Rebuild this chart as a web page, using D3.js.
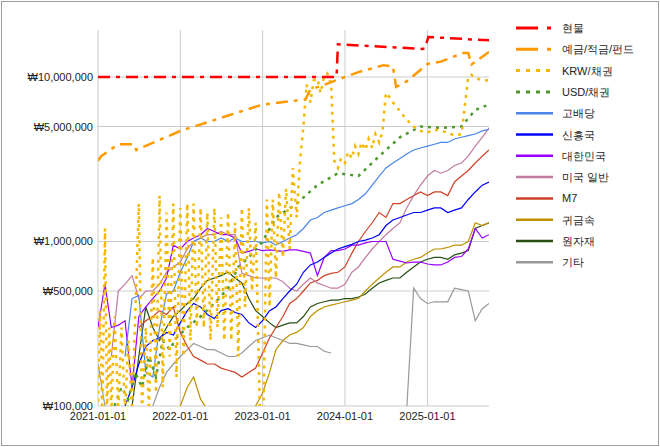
<!DOCTYPE html>
<html><head><meta charset="utf-8">
<script src="https://cdn.jsdelivr.net/npm/d3@7"></script>
<style>body{margin:0;background:#fff}text{font-family:"Liberation Sans",Arial,sans-serif}</style>
</head><body><svg id="chart" width="660" height="447"></svg>
<script>
// values in won (thousands * 1000)
var K = 1000

var xTicks = ["2021-01-01", "2022-01-01", "2023-01-01", "2024-01-01", "2025-01-01"]
var yTicks = [100000, 500000, 1000000, 5000000, 10000000]

var spotDates = ["2021-01-01", "2023-11-25", "2023-12-01", "2024-12-10", "2024-12-20", "2025-01-05", "2025-10-01"]
var spotVals = [10000, 10000, 15800, 14800, 14900, 17500, 16700]

var depDates = ["2021-01-01", "2021-01-15", "2021-04-01", "2021-06-10", "2021-06-20", "2022-01-01", "2023-01-01", "2023-07-10", "2023-08-01", "2023-09-15", "2024-01-01", "2024-03-01", "2024-06-20", "2024-08-01", "2024-08-15", "2024-10-01", "2025-01-01", "2025-03-01", "2025-06-10", "2025-07-01", "2025-07-15", "2025-10-01"]
var depVals = [3100, 3300, 3900, 3900, 3600, 4700, 6800, 7300, 8400, 8800, 10000, 10700, 11800, 11600, 8700, 9400, 12000, 12400, 14000, 14000, 11900, 14200]

var krwDates = ["2021-01-01", "2021-01-10", "2021-01-20", "2021-02-01", "2021-02-10", "2021-02-20", "2021-03-01", "2021-03-15", "2021-04-01", "2021-04-15", "2021-05-01", "2021-05-15", "2021-06-01", "2021-06-15", "2021-07-01", "2021-07-15", "2021-08-01", "2021-08-15", "2021-09-01", "2021-09-15", "2021-10-01", "2021-10-15", "2021-11-01", "2021-11-15", "2021-12-01", "2021-12-15",
  "2022-01-01", "2022-01-15", "2022-02-01", "2022-02-15", "2022-03-01", "2022-03-15", "2022-04-01", "2022-04-15", "2022-05-01", "2022-05-15", "2022-06-01", "2022-06-15", "2022-07-01", "2022-07-15", "2022-08-01", "2022-08-15", "2022-09-01", "2022-09-15", "2022-10-01", "2022-10-15", "2022-11-01", "2022-11-15", "2022-12-01", "2022-12-20",
  "2023-01-05", "2023-01-20", "2023-02-01", "2023-02-15", "2023-03-01", "2023-03-15", "2023-04-01", "2023-04-15", "2023-05-01", "2023-05-15", "2023-06-01", "2023-06-15", "2023-07-01", "2023-07-15", "2023-08-01", "2023-08-15", "2023-09-01", "2023-09-15", "2023-10-01", "2023-10-15", "2023-11-01", "2023-11-15", "2023-12-01", "2023-12-15",
  "2024-01-01", "2024-01-15", "2024-02-01", "2024-02-15", "2024-03-01", "2024-03-15", "2024-04-01", "2024-04-15", "2024-05-01", "2024-05-15", "2024-06-01", "2024-06-15", "2024-07-01", "2024-07-15", "2024-08-01", "2024-09-01", "2024-10-01", "2024-11-01", "2024-12-01", "2025-01-01", "2025-02-01", "2025-03-01", "2025-04-01", "2025-05-01", "2025-06-01", "2025-07-01", "2025-07-15", "2025-08-01", "2025-09-01", "2025-10-01"]
var krwVals = [95, 380, 90, 1200, 90, 300, 90, 350, 95, 300, 90, 250, 95, 350, 1700, 95, 300, 95, 800, 120, 1900, 130, 1500, 200, 1700, 150,
  1600, 200, 1700, 250, 1700, 300, 1600, 300, 1500, 250, 1600, 300, 1400, 250, 1500, 250, 1300, 200, 1600, 400, 1600, 500, 1300, 90,
  95, 1800, 400, 1800, 600, 2000, 800, 2100, 900, 2800, 1400, 3000, 5000, 9000, 7000, 9500, 9800, 8000, 10100, 10500, 9000, 3100, 2800, 3200,
  3000, 3500, 3200, 3800, 3400, 4000, 3600, 4200, 3700, 4500, 4000, 4600, 8000, 7600, 7000, 6200, 5500, 5000, 4700, 4600, 4800, 4700, 4600, 4400, 4500, 10000, 10300, 9800, 9600, 9500]

var usdDates = ["2021-03-15", "2021-04-15", "2021-05-15", "2021-06-15", "2021-07-15", "2021-08-15", "2021-09-15", "2021-10-15", "2021-11-15", "2021-12-15", "2022-02-01", "2022-04-01", "2022-06-01", "2022-08-01", "2022-09-15", "2022-11-01", "2023-01-01", "2023-03-01", "2023-06-01", "2023-09-01", "2023-12-01", "2024-03-01", "2024-06-01", "2024-09-01", "2024-12-01", "2025-03-01", "2025-06-01", "2025-08-01", "2025-10-01"]
var usdVals = [100, 130, 110, 160, 130, 200, 150, 250, 220, 260, 300, 350, 420, 520, 700, 800, 1000, 1400, 1700, 2200, 2600, 2500, 3300, 4300, 5000, 4900, 5000, 6300, 6800]

var months = ["2021-01", "2021-02", "2021-03", "2021-04", "2021-05", "2021-06", "2021-07", "2021-08", "2021-09", "2021-10", "2021-11", "2021-12",
  "2022-01", "2022-02", "2022-03", "2022-04", "2022-05", "2022-06", "2022-07", "2022-08", "2022-09", "2022-10", "2022-11", "2022-12",
  "2023-01", "2023-02", "2023-03", "2023-04", "2023-05", "2023-06", "2023-07", "2023-08", "2023-09", "2023-10", "2023-11", "2023-12",
  "2024-01", "2024-02", "2024-03", "2024-04", "2024-05", "2024-06", "2024-07", "2024-08", "2024-09", "2024-10", "2024-11", "2024-12",
  "2025-01", "2025-02", "2025-03", "2025-04", "2025-05", "2025-06", "2025-07", "2025-08", "2025-09", "2025-10"]

// monthly series (null = no holding)
var divVals = [null, null, null, null, 200, 450, 470, 160, 150, 300, 480, 500,
  650, 800, 1000, 1050, 1000, 1000, 1050, 1000, 1050, 1000, 1000, 1000,
  980, 1000, 950, 1000, 1050, 1100, 1200, 1350, 1400, 1500, 1550, 1600,
  1650, 1700, 1800, 1950, 2200, 2500, 2800, 3000, 3200, 3400, 3600, 3700,
  3800, 3900, 4000, 4000, 4200, 4300, 4400, 4500, 4700, 4800]
var emVals = [null, null, null, null, 100, 130, 180, 230, 250, 260, 280, 270,
  320, 380, 420, 400, 360, 340, 380, 390, 370, 360, 320, 300,
  330, 380, 400, 450, 500, 550, 650, 720, 750, 800, 850, 900,
  930, 960, 1000, 1020, 1050, 1100, 1250, 1350, 1400, 1450, 1500, 1500,
  1550, 1600, 1600, 1500, 1550, 1600, 1800, 2000, 2200, 2300]
var krVals = [300, 550, 300, 310, 330, 130, 350, 400, 450, 500, 600, 950,
  900, 1000, 1050, 1100, 1200, 1150, 1100, 1100, 1050, 850, 870, 900,
  880, 890, 880, 870, 890, 890, 870, 850, 620, 800, 880, 880,
  900, 950, 950, 980, 1000, 1000, 1000, 780, 760, 740, 750, 750,
  730, 720, 720, 750, 800, 810, 900, 1200, 1050, 1100]
var usVals = [null, null, 200, 500, 550, 620, 450, 500, 500, 550, 650, 700,
  750, 900, 1000, 1050, 1100, 1100, 1150, 1100, 1100, 640, 620, 600,
  600, 600, 600, 570, 520, 500, 550, 600, 560, 540, 520, 520,
  550, 650, 700, 800, 900, 1000, 1100, 1200, 1300, 1600, 1900, 2200,
  2500, 2700, 2600, 2700, 2900, 3000, 3300, 3800, 4300, 4900]
var m7Vals = [null, null, null, null, null, null, 300, 330, 350, 380, 360, 400,
  280, 230, 200, 190, 180, 180, 170, 165, 160, 150, 160, 170,
  210, 260, 300, 350, 420, 450, 500, 560, 580, 620, 640, 650,
  700, 850, 1000, 1150, 1300, 1500, 1400, 1700, 1700, 1800, 1900, 2000,
  1900, 2000, 2000, 1900, 2300, 2500, 2700, 3000, 3300, 3600]
var goldVals = [null, null, null, null, null, null, null, null, null, null, null, null,
  100, 130, 150, 110, 95, null, null, null, null, null, 95, 100,
  120, 160, 220, 250, 270, 280, 300, 350, 380, 400, 410, 420,
  430, 440, 450, 500, 550, 600, 650, 700, 700, 750, 780, 800,
  850, 900, 900, 920, 950, 950, 1000, 1300, 1250, 1300]
var rawVals = [null, null, null, null, null, 100, 200, 400, 300, 250, 300, 350,
  380, 420, 450, 520, 580, 600, 620, 650, 600, 560, 450, 380,
  350, 320, 300, 310, 320, 320, 350, 400, 420, 430, 440, 440,
  450, 450, 460, 480, 520, 560, 580, 600, 600, 650, 700, 750,
  780, 800, 800, 780, 830, 850, 880, 1200, 1250, 1300]
var etcVals = [180, 100, null, null, null, null, null, null, 100, 130, 160, 180,
  200, 220, 240, 230, 220, 220, 210, 200, 200, 210, 230, 250,
  260, 270, 260, 250, 240, 240, 235, 230, 230, 215, 210, null,
  null, null, null, null, null, null, null, null, null, 95, 520, 450,
  420, 430, 430, 430, 520, 510, 500, 330, 390, 420]

var names = ["현물", "예금/적금/펀드", "KRW/채권", "USD/채권", "고배당", "신흥국", "대한민국", "미국 일반", "M7", "귀금속", "원자재", "기타"]
var colors = ["#ff0000", "#ff9900", "#f5b800", "#4e9a2e", "#4a86e8", "#0000ff", "#9900ff", "#c27ba0", "#cc4125", "#bf9000", "#274e13", "#999999"]
var dashes = ["12,6,4,6", "12,6,4,6", "3,5", "3,5", null, null, null, null, null, null, null, null]
var widths = [2.5, 2.5, 2.5, 2.5, 1.2, 1.2, 1.2, 1.2, 1.2, 1.2, 1.2, 1.2]

var parseDay = d3.timeParse("%Y-%m-%d")
var parseMonth = d3.timeParse("%Y-%m")

function zip(dates, vals, parse) {
  return dates.map(function(d, i) {
    return {date: parse(d), v: vals[i] == null ? null : vals[i] * K}
  })
}

var series = [
  zip(spotDates, spotVals, parseDay),
  zip(depDates, depVals, parseDay),
  zip(krwDates, krwVals, parseDay),
  zip(usdDates, usdVals, parseDay),
  zip(months, divVals, parseMonth),
  zip(months, emVals, parseMonth),
  zip(months, krVals, parseMonth),
  zip(months, usVals, parseMonth),
  zip(months, m7Vals, parseMonth),
  zip(months, goldVals, parseMonth),
  zip(months, rawVals, parseMonth),
  zip(months, etcVals, parseMonth)
]

var svg = d3.select("#chart")
var plotL = 98, plotR = 489, plotT = 30, plotB = 406

svg.append("rect").attr("x", 1.5).attr("y", 1.5).attr("width", 657).attr("height", 444)
  .attr("fill", "none").attr("stroke", "#9e9e9e")

var x = d3.scaleTime().domain([parseDay("2021-01-01"), parseDay("2025-10-01")]).range([plotL, plotR])
var y = d3.scaleLog().domain([100000, 19300000]).range([plotB, plotT])

svg.append("defs").append("clipPath").attr("id", "clip")
  .append("rect").attr("x", plotL).attr("y", plotT - 3).attr("width", plotR - plotL).attr("height", plotB - plotT + 3)

// grid
svg.selectAll(".hgrid").data(yTicks).enter().append("line")
  .attr("x1", plotL).attr("x2", plotR)
  .attr("y1", function(d) { return y(d) }).attr("y2", function(d) { return y(d) })
  .attr("stroke", "#cccccc")
svg.selectAll(".vgrid").data(xTicks).enter().append("line")
  .attr("x1", function(d) { return x(parseDay(d)) }).attr("x2", function(d) { return x(parseDay(d)) })
  .attr("y1", plotT).attr("y2", plotB)
  .attr("stroke", "#cccccc")

var fmt = d3.format(",")
svg.selectAll(".ylab").data(yTicks).enter().append("text")
  .attr("x", plotL - 5).attr("y", function(d) { return y(d) + 4 })
  .attr("text-anchor", "end").attr("font-size", 11).attr("fill", "#222")
  .text(function(d) { return "₩" + fmt(d) })
svg.selectAll(".xlab").data(xTicks).enter().append("text")
  .attr("x", function(d) { return x(parseDay(d)) }).attr("y", plotB + 14)
  .attr("text-anchor", "middle").attr("font-size", 11).attr("fill", "#222")
  .text(function(d) { return d })

var line = d3.line()
  .defined(function(d) { return d.v != null })
  .x(function(d) { return x(d.date) })
  .y(function(d) { return y(d.v) })

var plot = svg.append("g").attr("clip-path", "url(#clip)")
// draw in reverse so 현물 sits on top
d3.range(series.length).reverse().forEach(function(i) {
  plot.append("path").datum(series[i])
    .attr("d", line)
    .attr("fill", "none")
    .attr("stroke", colors[i])
    .attr("stroke-width", widths[i])
    .attr("stroke-dasharray", dashes[i])
})

var legend = svg.selectAll(".leg").data(names).enter().append("g")
  .attr("transform", function(d, i) { return "translate(516," + (28 + i * 21.3) + ")" })
legend.append("line").attr("x1", 0).attr("x2", 37)
  .attr("stroke", function(d, i) { return colors[i] })
  .attr("stroke-width", function(d, i) { return i < 4 ? 3 : 2.5 })
  .attr("stroke-dasharray", function(d, i) { return i < 2 ? "22,9,4,9" : (i < 4 ? "4,6" : null) })
legend.append("text").attr("x", 46).attr("y", 4).attr("font-size", 11).attr("fill", "#222")
  .text(function(d) { return d })
</script></body></html>
